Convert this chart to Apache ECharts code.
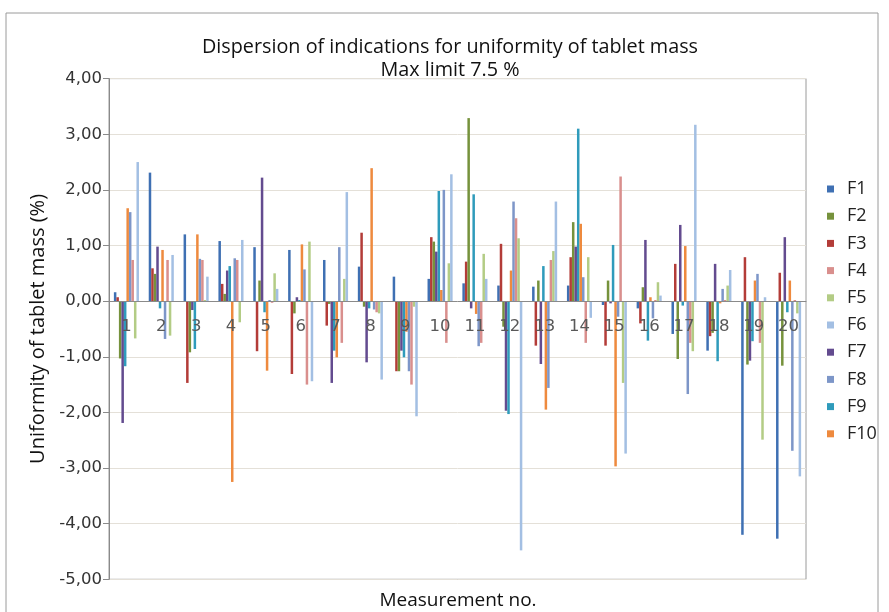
<!DOCTYPE html>
<html>
<head>
<meta charset="utf-8">
<script src="https://cdn.jsdelivr.net/npm/echarts@6/dist/echarts.min.js"></script>
<style>
html,body{margin:0;padding:0;background:#fff;}
#chart{width:889px;height:612px;}
</style>
</head>
<body>
<div id="chart"></div>
<script>
// Categories and tick labels
var categories = ['1','2','3','4','5','6','7','8','9','10','11','12','13','14','15','16','17','18','19','20'];
var yTicks = [-5,-4,-3,-2,-1,0,1,2,3,4];

// Series values (uniformity of tablet mass, %)
var f1  = [0.16, 2.31, 1.20, 1.08, 0.97, 0.92, 0.74, 0.62, 0.44, 0.40, 0.32, 0.28, 0.26, 0.28, -0.07, -0.13, -0.59, -0.89, -4.20, -4.27];
var f2  = [-1.03, 0.49, -0.92, 0.13, 0.37, -0.22, -0.05, -0.10, -1.26, 1.07, 3.29, -0.46, 0.37, 1.42, 0.37, 0.25, -1.04, -0.57, -1.14, -1.16];
var f3  = [0.07, 0.59, -1.47, 0.31, -0.90, -1.31, -0.44, 1.23, -1.26, 1.15, 0.71, 1.03, -0.80, 0.79, -0.80, -0.40, 0.67, -0.63, 0.79, 0.51];
var f4  = [0.74, 0.74, 0.74, 0.74, -0.03, -1.50, -0.75, -0.20, -1.50, -0.75, -0.75, 1.49, 0.74, -0.75, 2.24, 0.02, -0.75, 0.02, -0.75, 0.02];
var f5  = [-0.67, -0.62, 0.02, -0.38, 0.50, 1.07, 0.40, -0.22, -0.10, 0.68, 0.85, 1.13, 0.90, 0.79, -1.47, 0.34, -0.90, 0.28, -2.49, -0.22];
var f6  = [2.50, 0.83, 0.44, 1.10, 0.22, -1.44, 1.96, -1.41, -2.07, 2.28, 0.40, -4.48, 1.79, -0.30, -2.74, 0.10, 3.17, 0.56, 0.07, -3.15];
var f7  = [-2.19, 0.98, -0.16, 0.55, 2.22, 0.07, -1.47, -1.10, -0.89, 0.89, -0.13, -1.97, -1.13, 0.98, -0.04, 1.10, 1.37, 0.67, -1.07, 1.15];
var f8  = [1.60, -0.68, 0.76, 0.77, 0.02, 0.57, 0.97, -0.15, -1.26, 2.00, -0.81, 1.79, -1.56, 0.43, -0.28, -0.31, -1.67, 0.22, 0.49, -2.69];
var f9  = [-1.17, -0.13, -0.86, 0.63, -0.20, 0.02, -0.89, -0.13, -1.01, 1.98, 1.92, -2.03, 0.63, 3.10, 1.01, -0.71, -0.08, -1.08, -0.72, -0.20];
var f10 = [1.67, 0.92, 1.20, -3.25, -1.25, 1.02, -1.01, 2.39, -0.55, 0.20, -0.23, 0.55, -1.95, 1.39, -2.97, 0.07, 0.99, -0.04, 0.37, 0.37];

var legendNames = ['F1','F2','F3','F4','F5','F6','F7','F8','F9','F10'];
var seriesValues = {F1:f1,F2:f2,F3:f3,F4:f4,F5:f5,F6:f6,F7:f7,F8:f8,F9:f9,F10:f10};
var colors = {F1:'#3f70b3',F2:'#76923c',F3:'#b33c38',F4:'#d98f8d',F5:'#b3cc85',F6:'#a3bfe3',F7:'#634b8f',F8:'#7d96c8',F9:'#2f9bbb',F10:'#ee8a3e'};
// drawing order of the bars inside each group (as in the original chart)
var plotOrder = ['F1','F3','F2','F7','F9','F10','F8','F4','F5','F6'];

var FONT = 'Open Sans';
var NUMFONT = 'DejaVu Sans';
var GRID_TOP = 78.6, GRID_BOTTOM = 32.7, H = 612;
var plotH = H - GRID_TOP - GRID_BOTTOM;
// distance of the zero line above the bottom of the plot (min -5, max 4)
var zeroOffset = plotH * (0 - (-5)) / (4 - (-5));

var chart = echarts.init(document.getElementById('chart'));
var series = plotOrder.map(function(n){
  return {
    name:n, type:'bar', data:seriesValues[n], z:2,
    barGap:'0%', barCategoryGap:'28%',
    itemStyle:{color:colors[n]},
    emphasis:{disabled:true}
  };
});

chart.setOption({
  animation:false,
  textStyle:{fontFamily:FONT},
  title:{
    text:'Dispersion of indications for uniformity of tablet mass\nMax limit 7.5 %',
    left:445, top:31, textAlign:'center',
    textStyle:{fontFamily:FONT,fontSize:19.8,fontWeight:'normal',color:'#111',lineHeight:23}
  },
  legend:{
    data:legendNames, orient:'vertical', left:827, top:180, padding:0,
    itemWidth:7, itemHeight:7, itemGap:9.2, icon:'rect',
    textStyle:{fontFamily:FONT,fontSize:18,lineHeight:18,color:'#222',padding:[0,0,0,8]}
  },
  grid:{left:109, right:83, top:GRID_TOP, bottom:GRID_BOTTOM, show:true, borderColor:'#9a9a9a', borderWidth:1},
  xAxis:{
    type:'category', data:categories, position:'bottom', offset:-zeroOffset, z:10,
    axisLine:{onZero:false, lineStyle:{color:'#8a8a8a'}},
    axisTick:{show:false},
    axisLabel:{fontFamily:NUMFONT,fontSize:16.5,color:'#595959',margin:17, interval:0, hideOverlap:false}
  },
  yAxis:{
    type:'value', min:-5, max:4, interval:1,
    name:'Uniformity of tablet mass (%)', nameLocation:'middle', nameGap:61,
    nameTextStyle:{fontFamily:FONT,fontSize:20,color:'#111'},
    axisLine:{show:true, lineStyle:{color:'#8a8a8a'}},
    axisTick:{show:true, length:6, lineStyle:{color:'#8a8a8a'}},
    axisLabel:{fontFamily:NUMFONT,fontSize:16.5,color:'#333',margin:7,
      formatter:function(v){ return yTicks.indexOf(v)>=0 ? v.toFixed(2).replace('.',',') : ''; }},
    splitLine:{lineStyle:{color:'#e4e0d8'}}
  },
  graphic:[
    {type:'rect', shape:{x:6,y:13,width:872,height:640}, style:{fill:'none',stroke:'#9a9a9a',lineWidth:1}, silent:true},
    {type:'text', x:458, y:601, style:{text:'Measurement no.', fontFamily:FONT, fontSize:19, fill:'#111', textAlign:'center', textVerticalAlign:'middle'}}
  ],
  series:series
});
</script>
</body>
</html>
